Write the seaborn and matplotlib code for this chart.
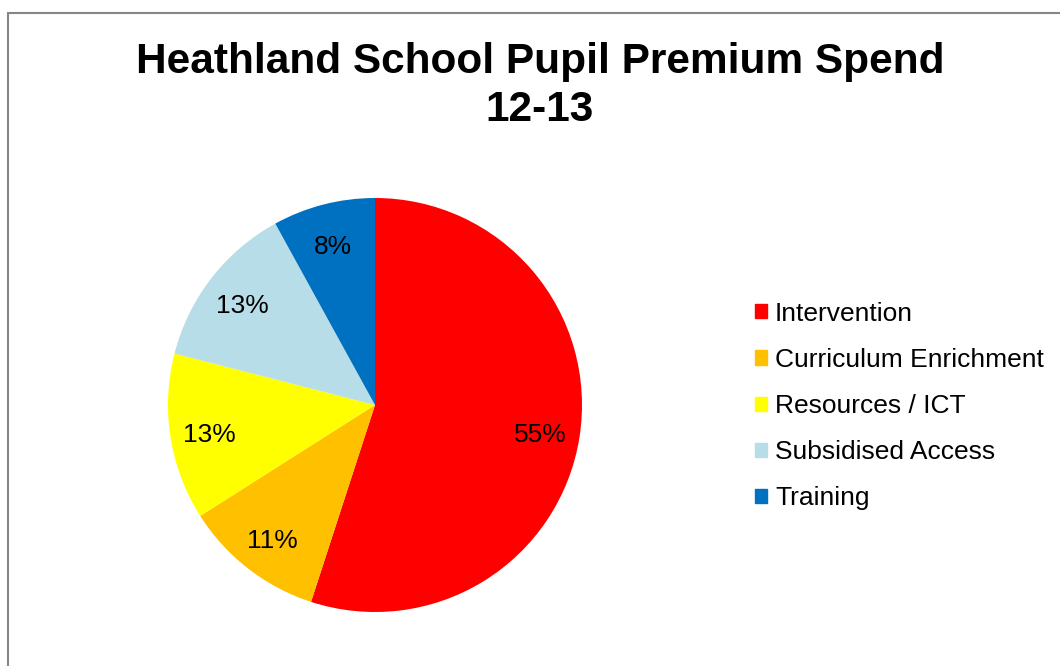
import matplotlib
matplotlib.use("Agg")
import matplotlib.pyplot as plt
import matplotlib.patches as mpatches
import matplotlib.transforms as mtransforms
import seaborn as sns

# DATEN
categories = ["Intervention", "Curriculum Enrichment", "Resources / ICT",
              "Subsidised Access", "Training"]
spend_pct = [55, 11, 13, 13, 8]
slice_colors = ["#ff0000", "#ffc000", "#ffff00", "#b7dde8", "#0070c0"]
title_text = "Heathland School Pupil Premium Spend\n12-13"

sns.set_theme(style="white")
plt.rcParams["font.family"] = ["Liberation Sans", "DejaVu Sans"]
plt.rcParams["text.color"] = "black"

fig = plt.figure(figsize=(10.6, 6.66), dpi=100)

# grauer Rahmen (links + oben sichtbar)
fig.patches.append(mpatches.Rectangle((8 / 1060, -0.05), 1.2, (666 - 13) / 666 + 0.05,
                                      transform=fig.transFigure, fill=False,
                                      edgecolor="#868686", linewidth=1.5))

ax = fig.add_axes([(375 - 207) / 1060, (666 - 612) / 666, 414 / 1060, 414 / 666])
wedges, texts, autotexts = ax.pie(spend_pct, colors=slice_colors, startangle=90,
                                  counterclock=False, autopct="%d%%",
                                  pctdistance=0.81, radius=1.0,
                                  wedgeprops={"linewidth": 0},
                                  textprops={"fontsize": 19, "color": "black"})
# Beschriftungen leicht nach unten schieben (wie im Original)
for t in autotexts:
    t.set_transform(mtransforms.offset_copy(t.get_transform(), fig=fig, y=-4, units="dots"))
ax.set_xlim(-1, 1)
ax.set_ylim(-1, 1)
ax.set_aspect("equal")

fig.text(540 / 1060, 1 - 86 / 666, title_text, ha="center", va="center",
         fontsize=30.5, fontweight="bold", linespacing=1.29, color="black")

handles = [mpatches.Patch(color=c, label=l) for c, l in zip(slice_colors, categories)]
fig.legend(handles=handles, loc="center left", bbox_to_anchor=(742 / 1060, 1 - 406 / 666),
           frameon=False, fontsize=19, handlelength=0.45, handleheight=0.45,
           handletextpad=0.3, labelspacing=0.84, borderpad=0, labelcolor="black")

plt.savefig("out.png", dpi=100)
